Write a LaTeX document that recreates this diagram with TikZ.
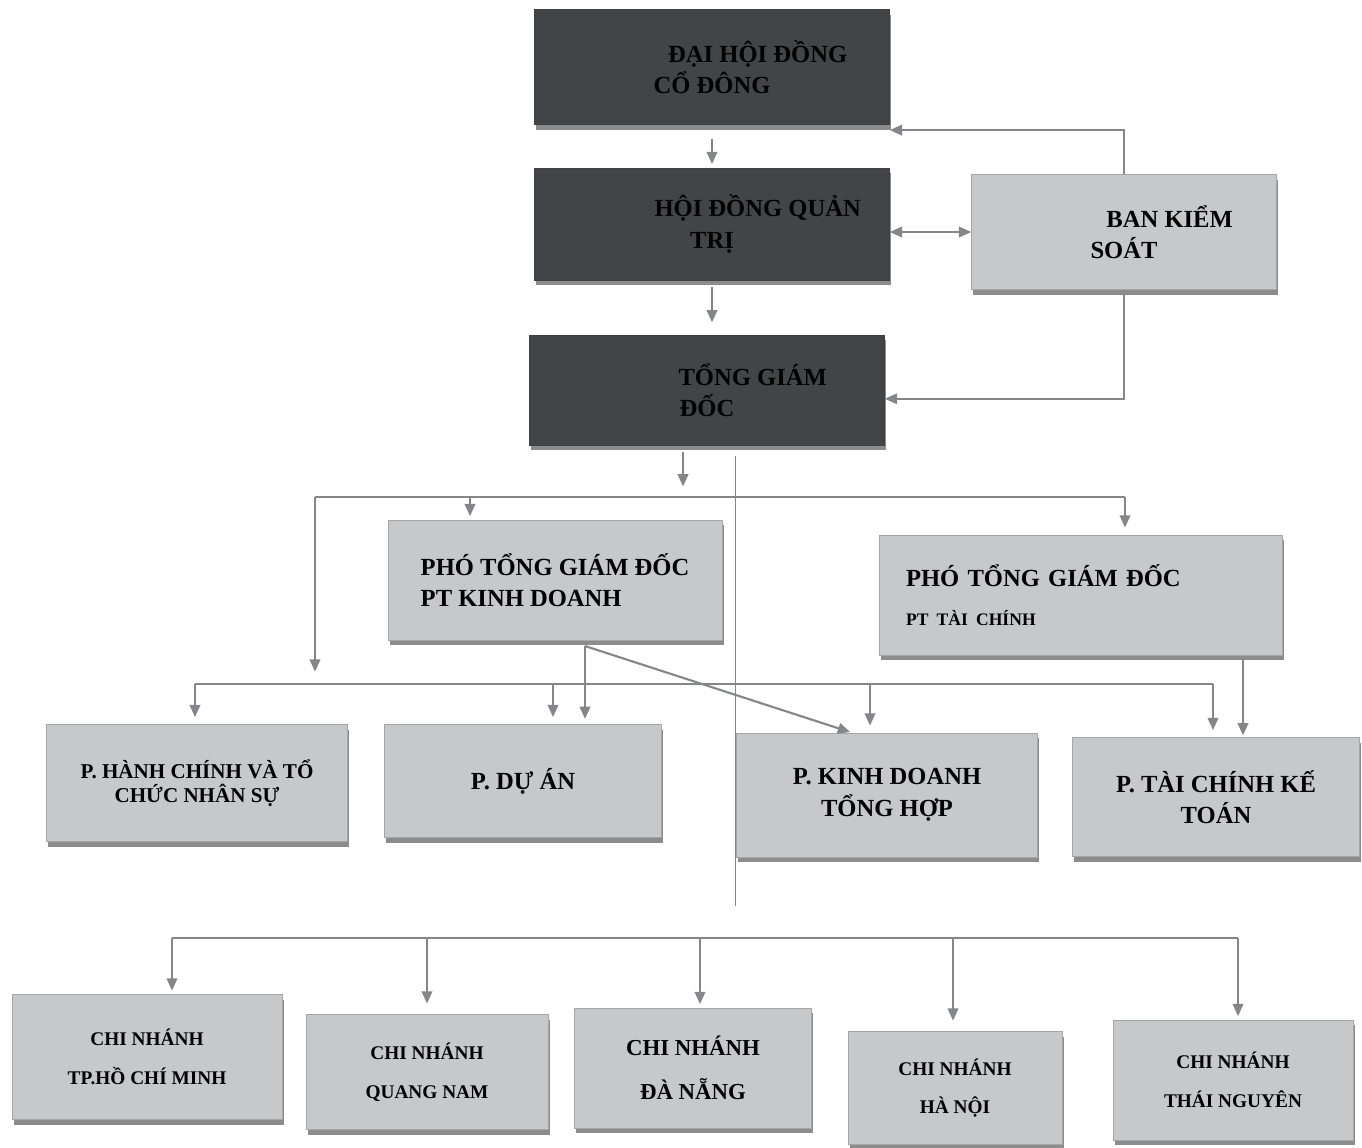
\documentclass[tikz,border=0pt]{standalone}
\usepackage{fontspec}
\setmainfont{Liberation Serif}
\usepackage{xcolor}
\usetikzlibrary{arrows.meta,shadows}

\definecolor{darkbox}{RGB}{66,69,72}
\definecolor{lightbox}{RGB}{198,200,202}
\definecolor{linegray}{RGB}{132,134,137}

% first line of a box set further right
\newcommand{\firstshift}{\hspace*{52pt}}

\begin{document}
\begin{tikzpicture}[x=0.02cm, y=-0.02cm,
  every node/.style={font=\bfseries},
  box/.style={fill=lightbox, draw=gray!70, inner sep=5pt, align=center,
    font=\fontsize{14}{18}\selectfont\bfseries,
    drop shadow={shadow xshift=1pt, shadow yshift=-3pt, fill=black!45, opacity=1}},
  topbox/.style={box, fill=darkbox, draw=black!75},
  cnbox/.style={box, font=\fontsize{11}{22}\selectfont\bfseries},
  arrow/.style={-{Triangle[length=7pt,width=6pt]}, linegray, line width=1.2pt},
  dblarrow/.style={arrow, {Triangle[length=7pt,width=6pt]}-{Triangle[length=7pt,width=6pt]}},
  line/.style={linegray, line width=1.2pt},
]

\useasboundingbox (0,0) rectangle (1362,1147);

% top levels
\node[topbox, minimum width=7.1cm, minimum height=2.3cm] (dhcd) at (712,67) {\firstshift ĐẠI HỘI ĐỒNG\\CỔ ĐÔNG};
\node[topbox, minimum width=7.1cm, minimum height=2.24cm] (hdqt) at (712,224) {\firstshift HỘI ĐỒNG QUẢN\\TRỊ};
\node[topbox, minimum width=7.1cm, minimum height=2.2cm] (tgd) at (707,390) {\firstshift TỔNG GIÁM\\ĐỐC};
\node[box, minimum width=6.1cm, minimum height=2.3cm] (bks) at (1124,232) {\firstshift BAN KIỂM\\SOÁT};

% deputies
\node[box, align=left, minimum width=6.68cm, minimum height=2.4cm] (pkd) at (555,580) {PHÓ TỔNG GIÁM ĐỐC\\PT KINH DOANH};
\node[box, align=left, text width=7.0cm, minimum width=8.06cm, minimum height=2.4cm] (ptc) at (1081,595) {PHÓ TỔNG GIÁM ĐỐC\\[4pt]\fontsize{10}{12}\selectfont PT TÀI CHÍNH};

% departments
\node[box, font=\fontsize{12}{14}\selectfont\bfseries, minimum width=6.02cm, minimum height=2.34cm] (phc) at (197,783) {P. HÀNH CHÍNH VÀ TỔ\\CHỨC NHÂN SỰ};
\node[box, minimum width=5.54cm, minimum height=2.26cm] (pda) at (523,781) {P. DỰ ÁN};
\node[box, minimum width=6.02cm, minimum height=2.48cm] (pkdth) at (887,795) {P. KINH DOANH\\TỔNG HỢP};
\node[box, minimum width=5.74cm, minimum height=2.38cm] (ptckt) at (1216,797) {P. TÀI CHÍNH KẾ\\TOÁN};

% branches
\node[cnbox, minimum width=5.4cm, minimum height=2.5cm] (cn1) at (147,1057) {CHI NHÁNH\\TP.HỒ CHÍ MINH};
\node[cnbox, minimum width=4.84cm, minimum height=2.3cm] (cn2) at (427,1072) {CHI NHÁNH\\QUANG NAM};
\node[cnbox, font=\fontsize{13}{25}\selectfont\bfseries, minimum width=4.74cm, minimum height=2.4cm] (cn3) at (693,1068) {CHI NHÁNH\\ĐÀ NẴNG};
\node[cnbox, minimum width=4.28cm, minimum height=2.26cm] (cn4) at (955,1088) {CHI NHÁNH\\HÀ NỘI};
\node[cnbox, minimum width=4.8cm, minimum height=2.4cm] (cn5) at (1233,1080) {CHI NHÁNH\\THÁI NGUYÊN};

% top connectors
\draw[arrow, shorten <=8pt, shorten >=2pt] (dhcd.south) -- (hdqt.north);
\draw[arrow, shorten <=4pt, shorten >=7pt] (hdqt.south) -- (hdqt.south |- tgd.north);
\draw[arrow] (bks.north) |- ([yshift=-3pt]dhcd.south east);
\draw[dblarrow] (bks.west -| hdqt.east) -- (bks.west);
\draw[arrow, shorten <=3pt] (bks.south) |- ([yshift=-5pt]tgd.east);

% deputies bus
\coordinate (tapT) at (683,497);
\coordinate (busA) at (315,497);
\coordinate (busB) at (1125,497);
\coordinate (tapPkd) at (470,497);
\draw[arrow, shorten <=4pt, shorten >=6pt] (tgd.south -| tapT) -- (tapT);
\draw[line] (busA) -- (busB);
\draw[arrow, shorten >=2pt] (tapPkd) -- (tapPkd |- pkd.north);
\draw[arrow, shorten >=4pt] (busB) -- (busB |- ptc.north);

% departments bus
\coordinate (busC) at (195,684);
\coordinate (busD) at (1213,684);
\coordinate (tapPda) at (553,684);
\coordinate (tapPkdth) at (870,684);
\draw[arrow, shorten >=7pt] (busA) -- (busA |- busC);
\draw[line] (busC) -- (busD);
\draw[arrow, shorten >=4pt] (busC) -- (busC |- phc.north);
\draw[arrow, shorten >=4pt] (tapPda) -- (tapPda |- pda.north);
\draw[arrow, shorten >=4pt] (tapPkdth) -- (tapPkdth |- pkdth.north);
\draw[arrow, shorten >=4pt] (busD) -- (busD |- ptckt.north);

\coordinate (pkdOut) at (585,646);
\draw[arrow, shorten >=3pt] (pkdOut) -- (pkdOut |- pda.north);
\draw[arrow, shorten >=1pt] (pkdOut) -- ([xshift=-20pt]pkdth.north);
\coordinate (ptcOut) at (1243,660);
\draw[arrow, shorten >=1pt] (ptcOut) -- (ptcOut |- ptckt.north);

% branches bus
\coordinate (tapCn) at (735,938);
\coordinate (busE) at (172,938);
\coordinate (busF) at (1238,938);
\coordinate (tapCn2) at (427,938);
\coordinate (tapCn3) at (700,938);
\coordinate (tapCn4) at (953,938);
\draw[line, thin, shorten <=6pt, shorten >=18pt] (tgd.south -| tapCn) -- (tapCn);
\draw[line] (busE) -- (busF);
\draw[arrow, shorten >=2pt] (busE) -- (busE |- cn1.north);
\draw[arrow, shorten >=6pt] (tapCn2) -- (tapCn2 |- cn2.north);
\draw[arrow, shorten >=2pt] (tapCn3) -- (tapCn3 |- cn3.north);
\draw[arrow, shorten >=6pt] (tapCn4) -- (tapCn4 |- cn4.north);
\draw[arrow, shorten >=2pt] (busF) -- (busF |- cn5.north);

\end{tikzpicture}
\end{document}
